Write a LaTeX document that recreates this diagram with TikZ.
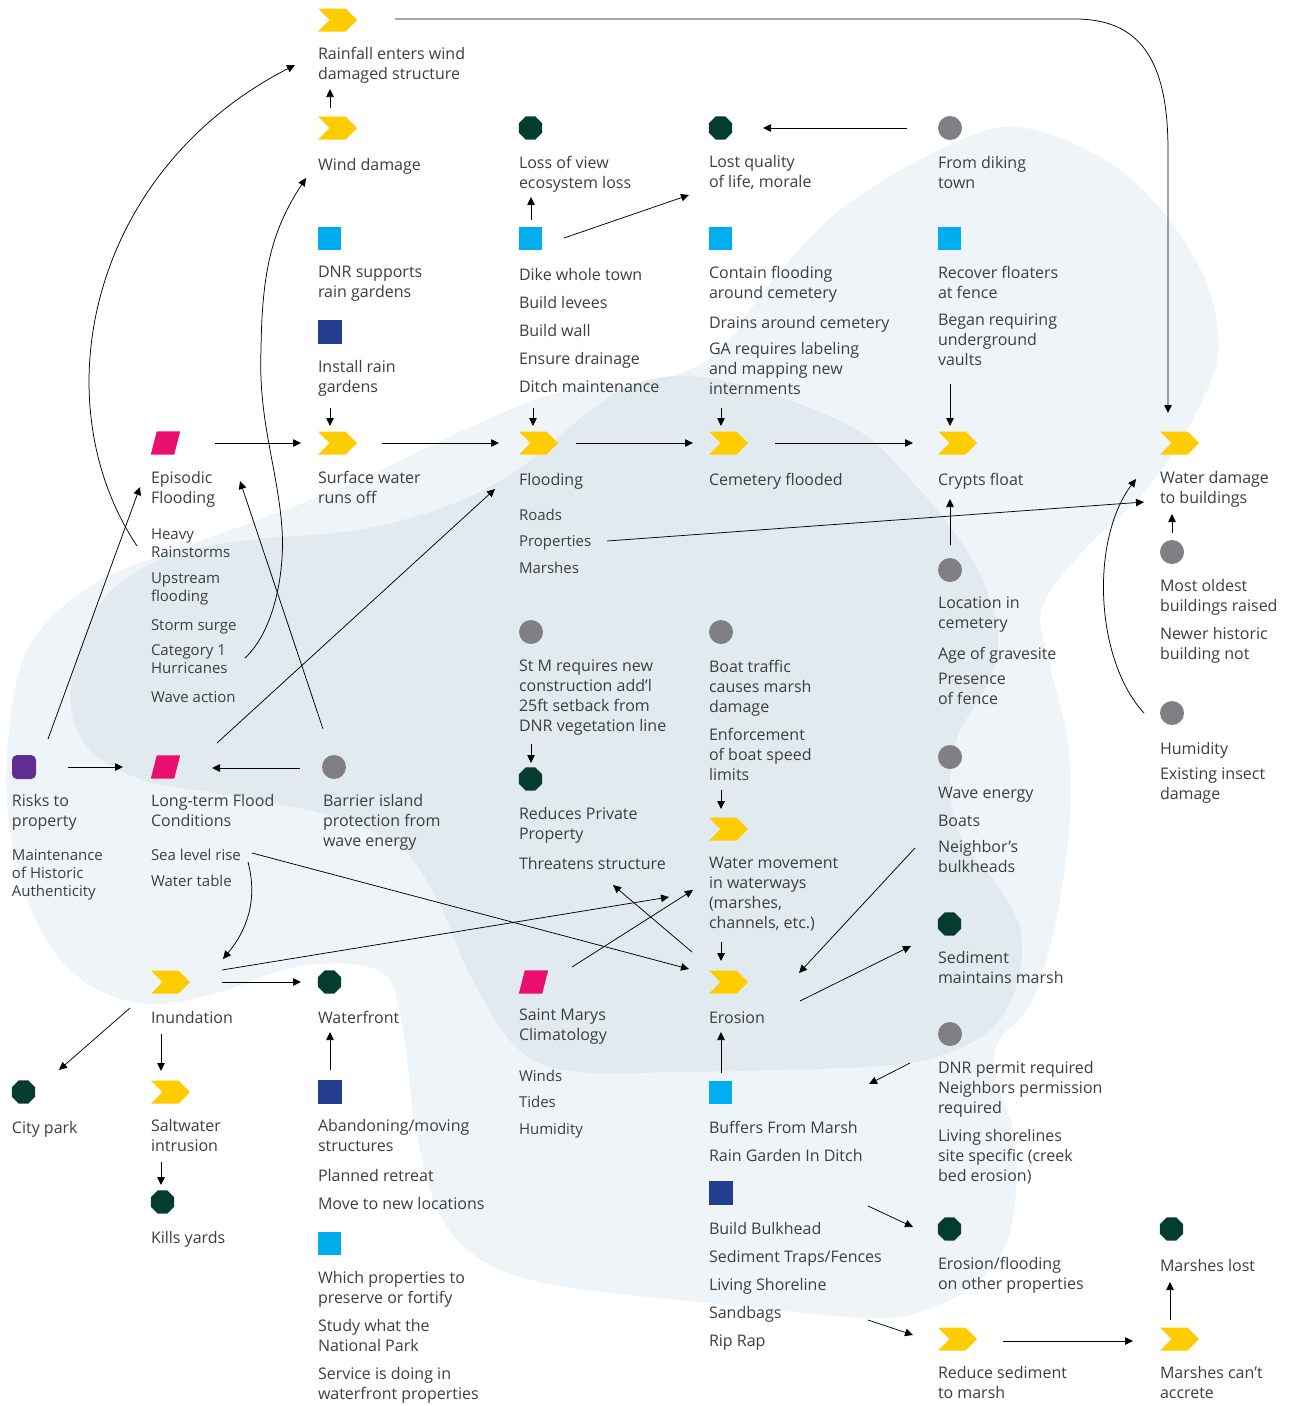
\documentclass[tikz,border=0pt]{standalone}
\usepackage{fontspec}
\setmainfont{Open Sans}
\usetikzlibrary{shapes.geometric,shapes.symbols,arrows.meta,calc}
\definecolor{ylw}{RGB}{255,204,0}
\definecolor{mag}{RGB}{234,14,110}
\definecolor{octc}{RGB}{4,61,48}
\definecolor{gry}{RGB}{128,128,132}
\definecolor{cyn}{RGB}{0,174,239}
\definecolor{nvy}{RGB}{36,62,143}
\definecolor{prp}{RGB}{96,45,145}
\definecolor{txt}{RGB}{62,62,62}
\definecolor{bgL}{RGB}{239,244,248}
\definecolor{bgD}{RGB}{225,234,238}
\tikzset{
  lbl/.style={anchor=north west, inner sep=0pt, outer sep=0pt, align=left, text=txt,
    font=\fontsize{16}{20}\selectfont, execute at begin node=\strut},
  lbs/.style={lbl, font=\fontsize{15}{18}\selectfont},
  arr/.style={draw=black, line width=0.75pt, -{Triangle[length=8pt,width=7.5pt]}},
  chev/.style={signal, signal to=east, signal from=west, signal pointer angle=90,
    fill=ylw, draw=none, minimum width=39pt, minimum height=23pt, inner sep=0pt},
  octg/.style={regular polygon, regular polygon sides=8, fill=octc, minimum size=25pt, inner sep=0pt},
  circ/.style={circle, fill=gry, minimum size=24pt, inner sep=0pt},
  sqc/.style={rectangle, fill=cyn, minimum size=23pt, inner sep=0pt},
  sqn/.style={rectangle, fill=nvy, minimum size=24pt, inner sep=0pt},
  purp/.style={rectangle, rounded corners=5pt, fill=prp, minimum size=24pt, inner sep=0pt},
  parabox/.style={rectangle, minimum width=29pt, minimum height=23pt, inner sep=0pt}
}
\newcommand\TX[4]{\node[lbl] (#1) at (#2,#3-7) {#4};}
\newcommand\TS[4]{\node[lbs] (#1) at (#2,#3-5.5) {#4};}
\newcommand\CH[3]{\node[chev] (#1) at (#2+19.5,#3) {};}
\newcommand\OC[3]{\node[octg] (#1) at (#2+11.5,#3) {};}
\newcommand\CI[3]{\node[circ] (#1) at (#2+12,#3) {};}
\newcommand\SC[3]{\node[sqc] (#1) at (#2+11.5,#3) {};}
\newcommand\SN[3]{\node[sqn] (#1) at (#2+12,#3) {};}
\newcommand\PA[3]{\node[parabox] (#1) at (#2+14.5,#3) {};
  \fill[mag] (#1.south west) -- ([xshift=-6pt]#1.south east) -- (#1.north east) -- ([xshift=6pt]#1.north west) -- cycle;}
\begin{document}
\begin{tikzpicture}[x=1pt,y=-1pt]
\useasboundingbox (0,0) rectangle (1289,1406);
\fill[white] (0,0) rectangle (1289,1406);
% background blobs
\fill[bgL] plot[smooth cycle, tension=0.6] coordinates {
(1025,128) (1120,170) (1190,250) (1218,330) (1205,395) (1150,485) (1083,551) (1042,608)
(1050,666) (1067,737) (1070,809) (1063,880) (1050,947) (1030,1005) (998,1042) (996,1078)
(1013,1130) (1016,1190) (1005,1247) (975,1284) (930,1308)
(870,1318) (700,1302) (560,1286) (485,1262) (440,1215) (416,1130) (403,1030) (388,978)
(350,964) (290,968) (220,992) (150,1004) (85,982) (38,925) (10,830) (9,730) (30,645)
(89,587) (161,555) (250,523) (360,480) (464,430) (560,392) (660,380) (720,350) (765,290)
(840,210) (950,145)};
\fill[bgD] plot[smooth cycle, tension=0.6] coordinates {
(640,382) (720,380) (850,426) (917,487) (967,551) (992,605) (998,650) (982,695) (958,735)
(950,790) (962,840) (995,882) (1020,928) (1018,980) (995,1025) (950,1052) (880,1066)
(680,1072) (570,1071) (515,1046) (470,975) (440,905) (410,856) (380,835) (321,813)
(214,793) (143,780) (93,753) (72,713) (76,660) (107,595) (170,556) (250,540) (357,530)
(450,505) (520,468) (585,415)};
% icons
\CH{crain}{318}{20} \CH{cwind}{318}{128} \CH{csurf}{318}{443} \CH{cflood}{519}{443}
\CH{ccem}{709}{443} \CH{ccrypt}{938}{443} \CH{cwdmg}{1160}{443} \CH{cwater}{709}{829}
\CH{ceros}{709}{982} \CH{cinund}{151}{982} \CH{csalt}{151}{1092} \CH{credsed}{938}{1339}
\CH{caccr}{1160}{1339}
\OC{oview}{519}{128} \OC{olost}{709}{128} \OC{oreduce}{519}{779} \OC{osed}{938}{924}
\OC{oeflood}{938}{1229} \OC{omlost}{1160}{1229} \OC{owf}{318}{982} \OC{ocity}{12}{1092}
\OC{okills}{151}{1202}
\CI{gdiking}{938}{128} \CI{goldest}{1160}{552} \CI{ghumid}{1160}{713} \CI{gloc}{938}{570}
\CI{gwave}{938}{757} \CI{gstm}{519}{632} \CI{gboat}{709}{632} \CI{gdnr}{938}{1034}
\CI{gbarrier}{322}{767}
\SC{sdnr}{318}{238} \SC{sdike}{519}{238} \SC{scontain}{709}{238} \SC{srecover}{938}{238}
\SC{sbuffers}{709}{1092} \SC{swhich}{318}{1243}
\SN{ninstall}{318}{332} \SN{nbulk}{709}{1193} \SN{naband}{318}{1092}
\node[purp] (prisks) at (24,767) {};
\PA{mepis}{151}{443} \PA{mlong}{151}{767} \PA{mstm}{519}{982}
% labels
\TX{t1}{318}{54}{Rainfall enters wind\\damaged structure}
\TX{t2}{318}{163}{Wind damage}
\TX{t3}{519}{163}{Loss of view\\ecosystem loss}
\TX{t4}{709}{162}{Lost quality\\of life, morale}
\TX{t5}{938}{163}{From diking\\town}
\TX{t6}{318}{273}{DNR supports\\rain gardens}
\TX{t7}{519}{273}{Dike whole town}
\TX{t8}{519}{301}{Build levees}
\TX{t9}{519}{329}{Build wall}
\TX{t10}{519}{357}{Ensure drainage}
\TX{t11}{519}{385}{Ditch maintenance}
\TX{t12}{709}{273}{Contain flooding\\around cemetery}
\TX{t13}{709}{321}{Drains around cemetery}
\TX{t14}{709}{349}{GA requires labeling\\and mapping new\\internments}
\TX{t15}{938}{273}{Recover floaters\\at fence}
\TX{t16}{938}{321}{Began requiring\\underground\\vaults}
\TX{t17}{318}{367}{Install rain\\gardens}
\TX{t18}{151}{478}{Episodic\\Flooding}
\TS{t19}{151}{534}{Heavy\\Rainstorms}
\TS{t20}{151}{578}{Upstream\\flooding}
\TS{t21}{151}{623}{Storm surge}
\TS{t22}{151}{650}{Category 1\\Hurricanes}
\TS{t23}{151}{695}{Wave action}
\TX{t24}{318}{478}{Surface water\\runs off}
\TX{t25}{519}{478}{Flooding}
\TS{t26}{519}{513}{Roads}
\TS{t27}{519}{539}{Properties}
\TS{t28}{519}{566}{Marshes}
\TX{t29}{709}{478}{Cemetery flooded}
\TX{t30}{938}{478}{Crypts float}
\TX{t31}{1160}{478}{Water damage\\to buildings}
\TX{t32}{1160}{586}{Most oldest\\buildings raised}
\TX{t33}{1160}{634}{Newer historic\\building not}
\TX{t34}{1160}{747}{Humidity}
\TX{t35}{1160}{775}{Existing insect\\damage}
\TX{t36}{938}{604}{Location in\\cemetery}
\TX{t37}{938}{652}{Age of gravesite}
\TX{t38}{938}{680}{Presence\\of fence}
\TX{t39}{938}{791}{Wave energy}
\TX{t40}{938}{819}{Boats}
\TX{t41}{938}{847}{Neighbor’s\\bulkheads}
\TX{t42}{519}{667}{St M requires new\\construction add’l\\25ft setback from\\DNR vegetation line}
\TX{t43}{519}{814}{Reduces Private\\Property}
\TX{t44}{519}{862}{Threatens structure}
\TX{t45}{709}{667}{Boat traffic\\causes marsh\\damage}
\TX{t46}{709}{735}{Enforcement\\of boat speed\\limits}
\TX{t47}{709}{864}{Water movement\\in waterways\\(marshes,\\channels, etc.)}
\TX{t48}{709}{1016}{Erosion}
\TX{t49}{938}{958}{Sediment\\maintains marsh}
\TX{t50}{938}{1068}{DNR permit required\\Neighbors permission\\required}
\TX{t51}{938}{1136}{Living shorelines\\site specific (creek\\bed erosion)}
\TX{t52}{709}{1126}{Buffers From Marsh}
\TX{t53}{709}{1154}{Rain Garden In Ditch}
\TX{t54}{709}{1227}{Build Bulkhead}
\TX{t55}{709}{1255}{Sediment Traps/Fences}
\TX{t56}{709}{1283}{Living Shoreline}
\TX{t57}{709}{1311}{Sandbags}
\TX{t58}{709}{1339}{Rip Rap}
\TX{t59}{938}{1264}{Erosion/flooding\\on other properties}
\TX{t60}{1160}{1264}{Marshes lost}
\TX{t61}{938}{1373}{Reduce sediment\\to marsh}
\TX{t62}{1160}{1373}{Marshes can’t\\accrete}
\TX{t63}{12}{801}{Risks to\\property}
\TS{t64}{12}{855}{Maintenance\\of Historic\\Authenticity}
\TX{t65}{151}{801}{Long-term Flood\\Conditions}
\TS{t66}{151}{853}{Sea level rise}
\TS{t67}{151}{879}{Water table}
\TX{t68}{323}{801}{Barrier island\\protection from\\wave energy}
\TX{t69}{151}{1016}{Inundation}
\TX{t70}{318}{1016}{Waterfront}
\TX{t71}{519}{1016}{Saint Marys\\Climatology}
\TS{t72}{519}{1074}{Winds}
\TS{t73}{519}{1100}{Tides}
\TS{t74}{519}{1127}{Humidity}
\TX{t75}{12}{1126}{City park}
\TX{t76}{151}{1126}{Saltwater\\intrusion}
\TX{t77}{151}{1236}{Kills yards}
\TX{t78}{318}{1126}{Abandoning/moving\\structures}
\TX{t79}{318}{1174}{Planned retreat}
\TX{t80}{318}{1202}{Move to new locations}
\TX{t81}{318}{1278}{Which properties to\\preserve or fortify}
\TX{t82}{318}{1326}{Study what the\\National Park}
\TX{t83}{318}{1374}{Service is doing in\\waterfront properties}
% connector end points
\coordinate (e1a) at (395,19);   \coordinate (e1b) at (1168,413);
\coordinate (e2a) at (330,108);  \coordinate (e2b) at (330,89);
\coordinate (e3a) at (137,546);  \coordinate (e3b) at (295,65);
\coordinate (e4a) at (245,658);  \coordinate (e4b) at (306,178);
\coordinate (e5a) at (48,739);   \coordinate (e5b) at (140,487);
\coordinate (e6a) at (323,729);  \coordinate (e6b) at (240,481);
\coordinate (e7a) at (217,743);  \coordinate (e7b) at (495,489);
\coordinate (e8a) at (68,767);   \coordinate (e8b) at (123,767);
\coordinate (e9a) at (300,768);  \coordinate (e9b) at (212,768);
\coordinate (e10a) at (215,443); \coordinate (e10b) at (301,443);
\coordinate (e11a) at (382,443); \coordinate (e11b) at (499,443);
\coordinate (e12a) at (576,443); \coordinate (e12b) at (693,443);
\coordinate (e13a) at (775,443); \coordinate (e13b) at (913,443);
\coordinate (e14a) at (330,408); \coordinate (e14b) at (330,426);
\coordinate (e15a) at (533,408); \coordinate (e15b) at (533,426);
\coordinate (e16a) at (721,408); \coordinate (e16b) at (721,426);
\coordinate (e17a) at (950,384); \coordinate (e17b) at (950,426);
\coordinate (e18a) at (531,220); \coordinate (e18b) at (531,197);
\coordinate (e19a) at (564,238); \coordinate (e19b) at (689,195);
\coordinate (e20a) at (907,128); \coordinate (e20b) at (763,128);
\coordinate (e21a) at (607,541); \coordinate (e21b) at (1144,502);
\coordinate (e22a) at (950,545); \coordinate (e22b) at (950,499);
\coordinate (e23a) at (1172,533); \coordinate (e23b) at (1172,514);
\coordinate (e24a) at (1144,713); \coordinate (e24b) at (1136,479);
\coordinate (e25a) at (531,744); \coordinate (e25b) at (531,763);
\coordinate (e26a) at (721,790); \coordinate (e26b) at (721,809);
\coordinate (e27a) at (721,942); \coordinate (e27b) at (721,961);
\coordinate (e28a) at (915,848); \coordinate (e28b) at (799,973);
\coordinate (e29a) at (800,1001); \coordinate (e29b) at (911,946);
\coordinate (e30a) at (910,1063); \coordinate (e30b) at (869,1084);
\coordinate (e31a) at (721,1073); \coordinate (e31b) at (721,1032);
\coordinate (e32a) at (868,1206); \coordinate (e32b) at (913,1227);
\coordinate (e33a) at (868,1320); \coordinate (e33b) at (913,1335);
\coordinate (e34a) at (1003,1341); \coordinate (e34b) at (1133,1341);
\coordinate (e35a) at (1170,1320); \coordinate (e35b) at (1170,1282);
\coordinate (e36a) at (248,862); \coordinate (e36b) at (223,959);
\coordinate (e37a) at (252,853); \coordinate (e37b) at (689,969);
\coordinate (e38a) at (222,970); \coordinate (e38b) at (669,897);
\coordinate (e39a) at (222,982); \coordinate (e39b) at (301,982);
\coordinate (e40a) at (572,967); \coordinate (e40b) at (693,890);
\coordinate (e41a) at (692,952); \coordinate (e41b) at (613,885);
\coordinate (e42a) at (130,1008); \coordinate (e42b) at (59,1070);
\coordinate (e43a) at (161,1034); \coordinate (e43b) at (161,1071);
\coordinate (e44a) at (161,1162); \coordinate (e44b) at (161,1185);
\coordinate (e45a) at (330,1070); \coordinate (e45b) at (330,1032);
% connectors
\draw[arr] (e1a) -- (1075,19) .. controls (1140,19) and (1168,60) .. (1168,150) -- (e1b);
\draw[arr] (e2a) -- (e2b);
\draw[arr] (e3a) .. controls (40,400) and (90,170) .. (e3b);
\draw[arr] (e4a) .. controls (275,630) and (285,570) .. (282,529) .. controls (278,470) and (258,420) .. (261,350) .. controls (262,270) and (272,230) .. (e4b);
\foreach \i in {5,...,23} {\draw[arr] (e\i a) -- (e\i b);}
\draw[arr] (e24a) .. controls (1095,660) and (1090,540) .. (e24b);
\foreach \i in {25,...,35} {\draw[arr] (e\i a) -- (e\i b);}
\draw[arr] (e36a) .. controls (258,900) and (247,930) .. (e36b);
\foreach \i in {37,...,45} {\draw[arr] (e\i a) -- (e\i b);}
\end{tikzpicture}
\end{document}
